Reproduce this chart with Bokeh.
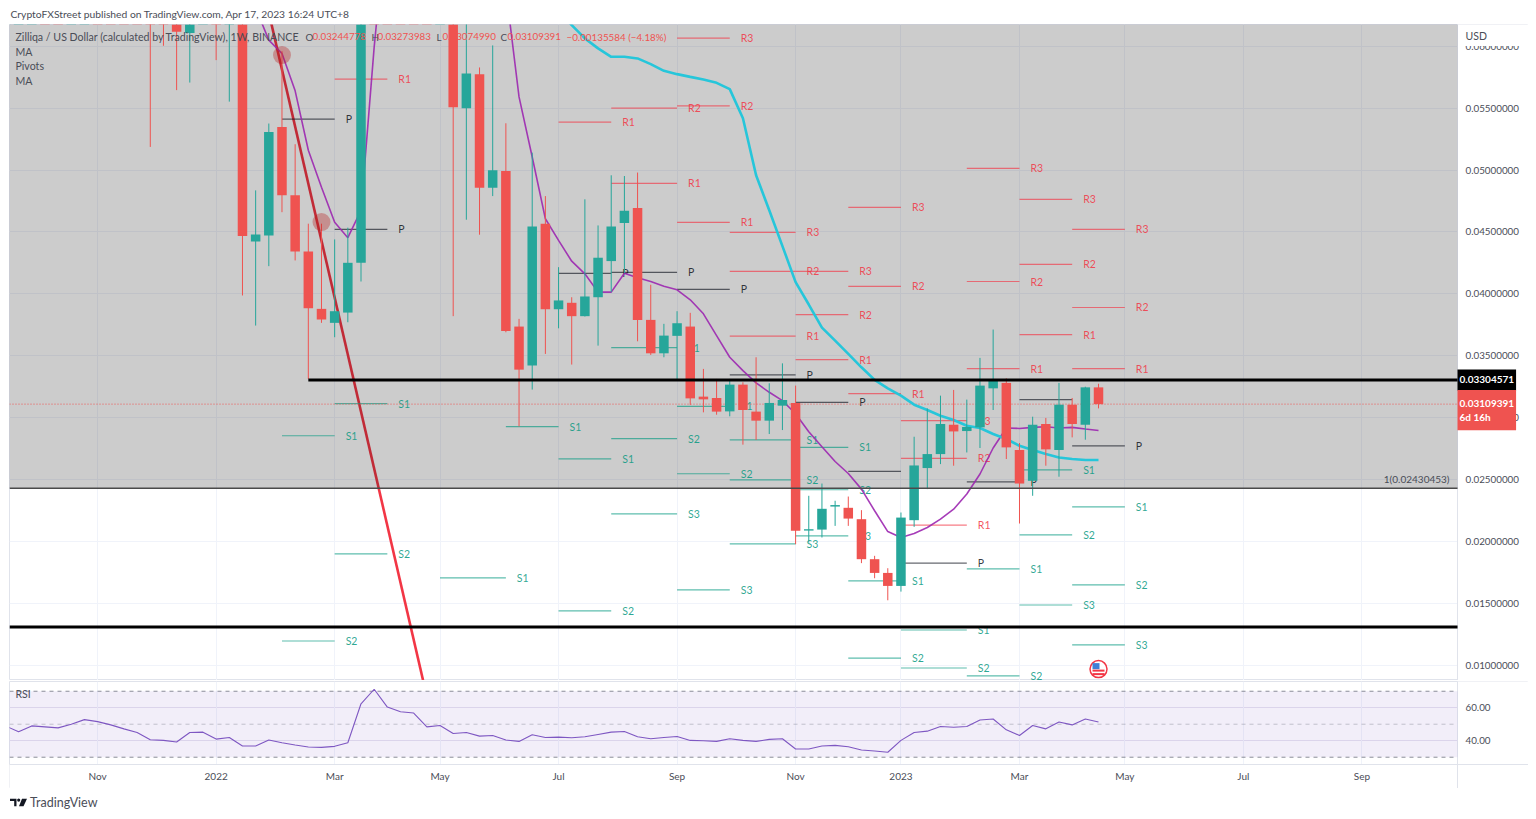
import pandas as pd
from bokeh.core.properties import value
from bokeh.embed import file_html
from bokeh.layouts import column
from bokeh.models import (BoxAnnotation, ColumnDataSource, FixedTicker, Grid, Label, LinearAxis,
                          PrintfTickFormatter, Range1d)
from bokeh.plotting import figure
from bokeh.resources import INLINE

# ---------- weekly candles, oldest first (values above 0.0618 are off the visible chart, estimated) ----------
opens = [0.100,0.105,0.110,0.118,0.112,0.108,0.125,0.130,0.122,0.116,0.102,
 0.090,0.075,0.068,0.06107,0.066,0.072,0.064,0.070,0.04424,0.04472,0.05349,0.04796,0.04343,0.03879,0.03766,0.03849,
 0.04251,0.100,0.092,0.075,0.072,0.070,0.064,0.066,0.0550,0.05775,0.04858,0.04992,0.03736,0.03421,0.04567,0.03876,
 0.03928,0.0382,0.03973,0.04265,0.04572,0.04693,0.0379,0.0352,0.03661,0.03736,0.0317,0.03159,0.03051,0.03267,0.03049,
 0.02976,0.03097,0.03119,0.02088,0.02096,0.02282,0.02272,0.0218,0.01857,0.01746,0.01641,0.02172,0.02593,0.02706,
 0.02943,0.02892,0.02922,0.03237,0.03281,0.02739,0.0249,0.02949,0.02739,0.03105,0.02943,0.03244778]
closes = [0.105,0.110,0.118,0.112,0.108,0.125,0.130,0.122,0.116,0.102,0.090,
 0.075,0.068,0.06117,0.066,0.072,0.064,0.070,0.04467,0.0448,0.05308,0.04796,0.04343,0.03884,0.03793,0.0386,0.04251,
 0.100,0.092,0.075,0.072,0.070,0.064,0.066,0.05508,0.05781,0.04858,0.04998,0.03701,0.03388,0.04545,0.03876,0.03947,
 0.0382,0.03979,0.04292,0.04545,0.04672,0.0379,0.0352,0.03663,0.03763,0.03156,0.03148,0.03049,0.03267,0.03062,0.02976,
 0.03119,0.03143,0.02086,0.02099,0.02264,0.02294,0.02185,0.01857,0.01746,0.01641,0.02193,0.02614,0.02706,0.02949,
 0.02889,0.02925,0.03259,0.03299,0.0276,0.02468,0.02943,0.02744,0.03105,0.02949,0.03245,0.03109391]
highs = [0.112,0.118,0.125,0.124,0.118,0.132,0.145,0.136,0.128,0.120,0.106,
 0.095,0.080,0.072,0.070,0.078,0.076,0.074,0.072,0.04836,0.05376,0.0596,0.05209,0.04567,0.04567,0.0444,0.04535,
 0.105,0.120,0.098,0.082,0.078,0.072,0.068,0.068,0.063,0.05829,0.06007,0.05378,0.03798,0.05141,0.0479,0.04216,
 0.03973,0.04764,0.04553,0.04958,0.04952,0.0498,0.04074,0.03758,0.0386,0.03847,0.03394,0.03313,0.03313,0.03286,0.03488,
 0.03278,0.03439,0.03259,0.02369,0.02468,0.02329,0.02363,0.02253,0.01884,0.01784,0.02234,0.02846,0.03075,0.03178,
 0.03224,0.03146,0.03483,0.03712,0.03318,0.02795,0.03008,0.02998,0.03281,0.03159,0.0325,0.03273983]
lows = [0.096,0.098,0.104,0.105,0.100,0.104,0.118,0.114,0.108,0.095,0.084,
 0.05187,0.06004,0.05646,0.05707,0.063,0.05888,0.05553,0.03987,0.03744,0.04224,0.0466,0.0427,0.03313,0.03766,0.0365,0.03771,
 0.0410,0.085,0.070,0.068,0.065,0.063,0.0625,0.0382,0.04599,0.04478,0.0479,0.0369,0.0293,0.03227,0.03515,0.03722,
 0.03429,0.03817,0.03582,0.04014,0.04167,0.03617,0.03507,0.03488,0.03305,0.03103,0.03043,0.03024,0.03011,0.02782,0.0282,
 0.02868,0.029,0.01978,0.01991,0.02032,0.02126,0.02126,0.01825,0.01703,0.01525,0.01595,0.02118,0.02423,0.02625,
 0.02612,0.02719,0.02755,0.03062,0.02666,0.02145,0.02369,0.02612,0.02523,0.02841,0.02822,0.0307499]

# Short moving average (purple), newest last
ma_short = [0.068,0.065,0.0631,0.0605,0.05942,0.0564,0.0516,0.04861,0.04578,0.04454,0.04675,0.05993,0.071,
 0.078,0.084,0.088,0.086,0.082,0.076,0.072,0.068,0.0646,0.05591,0.05106,0.04607,0.04432,0.04264,0.04162,0.04014,0.04014,
 0.04167,0.0413,0.0410,0.04062,0.04033,0.03952,0.03839,0.03663,0.03488,0.0338,0.03281,0.03205,0.03138,0.03032,0.02887,
 0.02765,0.02646,0.02549,0.02423,0.02248,0.0208,0.02032,0.02064,0.02113,0.0218,0.02261,0.02383,0.02545,0.02755,0.02917,
 0.02913,0.02922,0.02927,0.02917,0.02922,0.02909,0.02897]
# Long moving average (cyan), newest last
ma_long = [0.06293,0.06171,0.06064,0.05983,0.05915,0.05915,0.05902,0.05856,0.05802,0.05775,0.05753,0.05732,0.05705,0.05654,
 0.05419,0.04958,0.04675,0.04386,0.04095,0.03914,0.03728,0.03623,0.03515,0.03407,0.03305,0.03237,0.03178,0.03105,0.03062,
 0.03016,0.02981,0.02935,0.02917,0.02868,0.02828,0.02773,0.02739,0.02706,0.02679,0.02666,0.02658,0.02658]
# RSI, oldest first
rsi = [49,45.4,49,48.4,47.8,50,52.8,51.6,49.6,47.2,45,40.6,40.2,39.2,45,45.2,41,42,36.8,36.8,40.4,38.8,37.4,36.2,36,36.6,38.8,
 62.4,71.2,60.4,57.6,56.8,48.4,49.2,44.4,45,42.8,43.2,40.4,39.6,43.6,42,42.2,41.8,42.4,43.8,45.2,45.6,42.4,41.2,42,42.6,40.2,
 40,39.6,41.2,40.2,39.6,40.8,41.2,35,35,36.8,37.2,36.4,34.4,33.8,33,40.2,45,45.8,48.6,48.2,48.6,52.6,53.2,46.6,43.2,49.2,47.2,
 51.4,49.6,53.2,51.4]

# Monthly pivots
piv_months = ["2022-02","2022-03","2022-05","2022-06","2022-07","2022-08","2022-09","2022-10","2022-11","2022-12","2023-01","2023-02","2023-03","2023-04"]
piv_R3 = [None,None,None,None,None,None,0.06066,0.04497,0.04181,0.04699,0.02976,0.05014,0.04764,0.04521]
piv_R2 = [None,None,None,None,None,0.0550,0.05518,0.04181,0.03833,0.0406,0.02671,0.0410,0.04238,0.0389]
piv_R1 = [None,0.05734,None,None,0.05387,0.04893,0.04578,0.03658,0.03469,0.03194,0.02132,0.03396,0.03671,0.03396]
piv_P  = [0.05411,0.04521,None,None,0.04165,0.04173,0.04036,0.03346,0.03124,0.02566,0.01825,0.02482,0.03146,0.02773]
piv_S1 = [0.02854,0.03113,0.01706,0.02927,0.02668,0.03566,0.03091,0.0282,0.0276,0.01681,0.01285,0.01778,0.02579,0.0228]
piv_S2 = [0.01196,0.0190,None,None,0.01439,0.0283,0.02547,0.02498,0.02418,0.01058,0.00978,0.00915,0.02053,0.01649]
piv_S3 = [None,None,None,None,None,0.02223,0.01609,0.01981,0.02045,None,None,None,0.01487,0.01164]

# Key levels and annotations
support_high = 0.03304571
support_low = 0.01309960
fib_level = 0.02430453
trend_dates = ["2022-01-27", "2022-04-28"]
trend_prices = [0.06535, 0.00549]
marker_dates = ["2022-02-07", "2022-02-28"]
marker_prices = [0.05929, 0.04580]
price_ticks = [0.01,0.015,0.02,0.025,0.03,0.035,0.04,0.045,0.05,0.055,0.06]
rsi_ticks = [40, 60]
rsi_levels = [30, 50, 70]
time_tick_dates = ["2021-11-01","2022-01-03","2022-03-07","2022-05-02","2022-07-04","2022-09-05",
                   "2022-11-07","2023-01-02","2023-03-06","2023-05-01","2023-07-03","2023-09-04"]
time_tick_labels = ["Nov","2022","Mar","May","Jul","Sep","Nov","2023","Mar","May","Jul","Sep"]

# ---------- styling ----------
FONT = "Lato"
TXT = "#4a4d57"
GRID = "#f0f3fa"
BORDER = "#e0e3eb"
GREEN = "#26a69a"
RED = "#ef5350"
PRED = "#f23645"
PGREEN = "#089981"
PX = 13.17                # pixels per weekly bar
dates = pd.date_range(end="2023-04-17", periods=len(opens), freq="7D")
def week(d):
    return (pd.Timestamp(d) - dates[0]).days / 7
last = len(opens) - 1
x_lo, x_div, x_end = last - 82.69, last + 27.26, last + 32.65
tick_pos = [int(round(week(d))) for d in time_tick_dates]
price_lo, price_hi = 0.00877, 0.06176
W = 1519                  # frame spans the plot and the price scale
DIV = 1448                # plot / price scale boundary inside the frame

def first_monday(m):
    d = pd.Timestamp(m + "-01")
    return d + pd.Timedelta(days=(7 - d.weekday()) % 7)

# ---------- header ----------
ph = figure(width=1520, height=16, x_range=(0,1520), y_range=(16,0), output_backend="svg",
            toolbar_location=None, x_axis_type=None, y_axis_type=None, min_border=0, outline_line_color=None)
ph.grid.visible = False
ph.text(x=[1], y=[5], text=["CryptoFXStreet published on TradingView.com, Apr 17, 2023 16:24 UTC+8"],
        text_font=value(FONT), text_font_size="10.3px", text_color=TXT, text_baseline="middle")

def value_axis(ticks, fmt):
    a = LinearAxis(fixed_location=x_div, ticker=FixedTicker(ticks=ticks), formatter=PrintfTickFormatter(format=fmt))
    a.major_tick_line_color = None; a.minor_tick_line_color = None; a.axis_line_color = None
    a.major_tick_out = 0; a.major_tick_in = 0
    a.major_label_standoff = 8
    a.major_label_text_font = FONT; a.major_label_text_font_size = "9.8px"; a.major_label_text_color = TXT
    return a

# ---------- main chart ----------
p = figure(frame_width=W, frame_height=656, x_range=Range1d(x_lo, x_end), y_range=Range1d(price_lo, price_hi),
           output_backend="svg", toolbar_location=None, x_axis_type=None, y_axis_type=None,
           min_border_left=1, min_border_right=0, min_border_top=0, min_border_bottom=0,
           outline_line_color=BORDER)
p.add_layout(value_axis(price_ticks, "%.8f"), "right")
p.add_layout(Grid(dimension=1, ticker=FixedTicker(ticks=price_ticks), grid_line_color=GRID))
p.add_layout(Grid(dimension=0, ticker=FixedTicker(ticks=tick_pos), grid_line_color=GRID))

# price scale background
p.quad(left=[x_div], right=[x_end+1], bottom=[price_lo-1], top=[price_hi+1], fill_color="white", line_color=None)
p.line([x_div, x_div], [price_lo, price_hi], line_color=BORDER, line_width=1)

# falling trend line sits beneath the grey shaded zone
p.line([week(d) for d in trend_dates], trend_prices, line_color=PRED, line_width=2.6)
p.quad(left=[x_lo-5], right=[x_div], bottom=[fib_level], top=[price_hi+1], fill_color="black", fill_alpha=0.2, line_color=None)

# pivots
segs = dict(x0=[], x1=[], y=[], c=[], t=[])
for name, vals, col in [("R1",piv_R1,PRED),("R2",piv_R2,PRED),("R3",piv_R3,PRED),("P",piv_P,"#131722"),
                        ("S1",piv_S1,PGREEN),("S2",piv_S2,PGREEN),("S3",piv_S3,PGREEN)]:
    for m, v in zip(piv_months, vals):
        if v is None:
            continue
        s = first_monday(m)
        e = first_monday((s + pd.Timedelta(days=31)).strftime("%Y-%m"))
        segs["x0"].append(week(s)); segs["x1"].append(week(e)); segs["y"].append(v); segs["c"].append(col); segs["t"].append(name)
src = ColumnDataSource(segs)
p.segment(x0="x0", x1="x1", y0="y", y1="y", line_color="c", line_alpha=0.65, line_width=1.2, source=src)
p.text(x="x1", y="y", text="t", text_color="c", text_alpha=0.85, text_font=value(FONT), text_font_size="10.5px",
       text_baseline="middle", x_offset=11, source=src)

# last price dotted line
p.line([x_lo, x_div], [closes[-1]]*2, line_color=RED, line_width=1, line_dash=[1,2])
# moving averages
p.line(list(range(last-len(ma_short)+1, last+1)), ma_short, line_color="#9c27b0", line_alpha=0.9, line_width=1.6)
p.line(list(range(last-len(ma_long)+1, last+1)), ma_long, line_color="#26c6da", line_width=2.6)

# candles
colors = [GREEN if c >= o else RED for o, c in zip(opens, closes)]
cs = ColumnDataSource(dict(x=list(range(len(opens))), o=opens, c=closes, h=highs, l=lows, col=colors,
                           top=[max(a,b) for a,b in zip(opens,closes)], bot=[min(a,b) for a,b in zip(opens,closes)]))
p.segment(x0="x", x1="x", y0="l", y1="h", line_color="col", line_width=1, source=cs)
p.vbar(x="x", width=9.5/PX, top="top", bottom="bot", fill_color="col", line_color=None, source=cs)

# key levels
p.line([x_lo, x_div], [fib_level]*2, line_color="#4a4a4a", line_width=1.5)
p.line([week("2022-02-21"), x_div], [support_high]*2, line_color="black", line_width=3)
p.line([x_lo, x_div], [support_low]*2, line_color="black", line_width=3)
p.scatter([week(d) for d in marker_dates], marker_prices, size=18, fill_color="#b71c1c", fill_alpha=0.35, line_color=None)

# event flag icon
fx, fy = last, 0.00969
pv = (price_hi - price_lo) / 656
p.scatter([fx], [fy], size=17, fill_color="white", line_color=PRED, line_width=1.5)
p.rect([fx, fx], [fy-1.5*pv, fy-5*pv], width=12/PX, height=2*pv, fill_color=PRED, line_color=None)
p.rect([fx-2.5/PX], [fy+3*pv], width=7/PX, height=6*pv, fill_color="#3f7fd6", line_color=None)

# legend texts
def lab(fig, text, x, y, color=TXT, size="10.6px", **kw):
    fig.add_layout(Label(x=x-9, y=680-y, x_units="screen", y_units="screen", text=text, text_color=color,
                         text_font=FONT, text_font_size=size, text_baseline="middle", **kw))
lab(p, "Zilliqa / US Dollar (calculated by TradingView), 1W, BINANCE", 15, 36)
for t, x, c in [("O",305,TXT),("0.03244778",312,RED),("H",371,TXT),("0.03273983",377,RED),("L",436,TXT),("0.03074990",442,RED),
                ("C",500,TXT),("0.03109391",507,RED),("\u22120.00135584 (\u22124.18%)",566,RED)]:
    lab(p, t, x, 36, c, "9.8px")
lab(p, "MA", 15, 51); lab(p, "Pivots", 15, 65); lab(p, "MA", 15, 80)
p.add_layout(Label(x=1440, y=fib_level, y_offset=9, x_units="screen", y_units="data", text="1(0.02430453)", text_align="right",
                   text_color=TXT, text_font=FONT, text_font_size="10px", text_baseline="middle"))
# axis overlays
p.add_layout(BoxAnnotation(left=DIV+1, right=DIV+70, top=655, bottom=680-45.5, left_units="screen", right_units="screen",
                           top_units="screen", bottom_units="screen", fill_color="white", fill_alpha=1, line_color=None))
p.add_layout(Label(x=DIV+8, y=680-35, x_units="screen", y_units="screen", text="USD", text_color=TXT, text_font=FONT, text_font_size="10.5px",
                   text_baseline="middle"))
p.add_layout(Label(x=DIV, y=support_high, x_units="screen", y_units="data", text="0.03304571", text_color="white", text_font=FONT,
                   text_font_style="bold", text_font_size="10px", text_baseline="middle", background_fill_color="black", padding=(2, 7)))
p.add_layout(Label(x=DIV, y=closes[-1], y_offset=-6, x_units="screen", y_units="data", text="0.03109391\n6d 16h", text_color="white", text_font=FONT,
                   text_font_style="bold", text_font_size="10px", text_baseline="middle", background_fill_color=RED, padding=(2, 7)))

# ---------- RSI ----------
rsi_floor = 25.6
pr = figure(frame_width=W, frame_height=107, x_range=p.x_range, y_range=Range1d(11.05, 75.9), output_backend="svg",
            toolbar_location=None, x_axis_type=None, y_axis_type=None, min_border_left=1, min_border_right=0,
            min_border_top=1, min_border_bottom=0, outline_line_color=BORDER)
pr.add_layout(Grid(dimension=1, ticker=FixedTicker(ticks=rsi_ticks), grid_line_color="#e6e3f0"))
pr.add_layout(Grid(dimension=0, ticker=FixedTicker(ticks=tick_pos), grid_line_color=GRID))
pr.add_layout(value_axis(rsi_ticks, "%.2f"), "right")
axx = LinearAxis(fixed_location=rsi_floor, ticker=FixedTicker(ticks=tick_pos))
axx.major_label_overrides = dict(zip(tick_pos, time_tick_labels))
axx.major_tick_line_color = None; axx.minor_tick_line_color = None; axx.axis_line_color = None
axx.major_tick_out = 0; axx.major_tick_in = 0
axx.major_label_standoff = 6
axx.major_label_text_font = FONT; axx.major_label_text_font_size = "10px"; axx.major_label_text_color = TXT
pr.add_layout(axx, "below")
# scale backgrounds
pr.quad(left=[x_div], right=[x_end+1], bottom=[0], top=[100], fill_color="white", line_color=None)
pr.quad(left=[x_lo-5], right=[x_end+1], bottom=[0], top=[rsi_floor], fill_color="white", line_color=None)
pr.line([x_div, x_div], [0, 100], line_color=BORDER, line_width=1)
pr.line([x_lo, x_end], [rsi_floor, rsi_floor], line_color=BORDER, line_width=1)
pr.quad(left=[x_lo-5], right=[x_div], bottom=[rsi_levels[0]], top=[rsi_levels[2]], fill_color="#7e57c2", fill_alpha=0.1, line_color=None)
for lv in rsi_levels:
    pr.line([x_lo, x_div], [lv, lv], line_color="#787b86", line_dash=[4,4], line_width=1, line_alpha=0.85 if lv != 50 else 0.4)
pr.line(list(range(last-len(rsi)+1, last+1)), rsi, line_color="#7e57c2", line_width=1.1)
pr.add_layout(Label(x=6, y=107-12, x_units="screen", y_units="screen", text="RSI", text_color=TXT, text_font=FONT, text_font_size="10.5px", text_baseline="middle"))

# ---------- footer ----------
pf = figure(width=1520, height=23, x_range=(8,1528), y_range=(812,789), output_backend="svg",
            toolbar_location=None, x_axis_type=None, y_axis_type=None, min_border=0, outline_line_color=None)
pf.grid.visible = False
pf.patches([[8.5,15,15,12.7,12.7,10.8,10.8,8.5],[20.5,25.5,22,17.5]],
           [[799.2,799.2,806.8,806.8,801.6,801.6,801.6,801.6],[799.2,799.2,806.8,806.8]], fill_color="#131722", line_color=None)
pf.scatter([17.2],[800.6], size=3.2, fill_color="#131722", line_color=None)
pf.text(x=[28.5], y=[803], text=["TradingView"], text_font=value(FONT), text_font_size="12.5px", text_color=TXT, text_baseline="middle")

page = column(ph, p, pr, pf, spacing=0, margin=(8, 0, 0, 8))
open("out.html", "w").write(file_html(page, INLINE))
